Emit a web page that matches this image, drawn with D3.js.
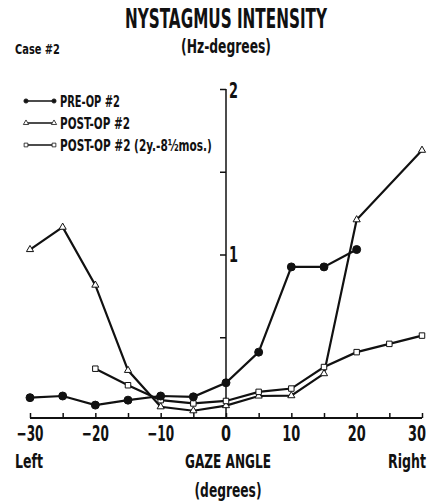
<!DOCTYPE html>
<html><head><meta charset="utf-8">
<script src="https://cdn.jsdelivr.net/npm/d3@7"></script>
<style>body{margin:0;background:#fff}svg{display:block}text{font-family:"DejaVu Sans Condensed","Liberation Sans Narrow",sans-serif;font-weight:bold;fill:#111}</style>
</head><body><div id="c"></div>
<script>
const preAngles = [-30,-25,-20,-15,-10,-5,0,5,10,15,20];
const preValues = [0.135,0.145,0.09,0.12,0.145,0.14,0.225,0.41,0.925,0.925,1.03];
const postAngles = [-30,-25,-20,-15,-10,-5,0,5,10,15,20,30];
const postValues = [1.03,1.165,0.815,0.30,0.08,0.056,0.087,0.145,0.147,0.28,1.21,1.63];
const post2Angles = [-20,-15,-10,-5,0,5,10,15,20,25,30];
const post2Values = [0.31,0.21,0.12,0.10,0.115,0.17,0.19,0.32,0.41,0.46,0.51];
const xTickValues = [-30,-20,-10,0,10,20,30];
const yTickLabels = [1,2];

const W=429,H=503;
const svg=d3.select("#c").append("svg").attr("width",W).attr("height",H);
const x=d3.scaleLinear().domain([-30,30]).range([30,422]);
const y=d3.scaleLinear().domain([0,2]).range([420,89]);

// text squeezed horizontally to a target width via scale transform
function txt(t,px,py,size,len,anchor){
  const g=svg.append("g");
  const e=g.append("text").attr("font-size",size).attr("text-anchor",anchor||"start").text(t);
  const nat=e.node().getComputedTextLength();
  const sx=len?len/nat:1;
  g.attr("transform",`translate(${px},${py}) scale(${sx},1)`);
  return e;
}
// titles
txt("NYSTAGMUS INTENSITY",226,28,26,202,"middle");
txt("(Hz-degrees)",226,53,19,90,"middle");
txt("Case #2",15,54,14,45);

// x axis
const xAxis=d3.axisBottom(x).tickValues(d3.range(-30,31,5)).tickSize(-5).tickFormat("");
const gx=svg.append("g").attr("transform",`translate(0,${y(0)-2})`).call(xAxis);
gx.select(".domain").attr("stroke","#111").attr("stroke-width",2).attr("d",`M${x(-30)},0H${x(30)}`);
gx.selectAll(".tick line").attr("stroke","#111").attr("stroke-width",1.5);
xTickValues.forEach(d=>{
  const lab=d<0?"\u2212"+Math.abs(d):String(d);
  const w=d<0?27:(d===0?10:18);
  if(d===30) txt(lab,426,441,21,w,"end");
  else txt(lab,x(d),441,21,w,"middle");
});

// y axis
const yAxis=d3.axisLeft(y).tickValues([0.5,1,1.5,2]).tickSize(6).tickFormat("");
const gy=svg.append("g").attr("transform",`translate(${x(0)},0)`).call(yAxis);
gy.select(".domain").attr("stroke","#111").attr("stroke-width",1.5).attr("d",`M0,${y(0)-2}V${y(2)}`);
gy.selectAll(".tick line").attr("stroke","#111").attr("stroke-width",1.5);
yTickLabels.forEach(d=>txt(String(d),x(0)+3,y(d)+(d===2?9:7),22,9));

// axis labels
txt("Left",15,468,19,28);
txt("GAZE ANGLE",228,468,19,86,"middle");
txt("Right",426,468,19,38,"end");
txt("(degrees)",228,497,19,67,"middle");

const line=d3.line().x(d=>x(d[0])).y(d=>y(d[1]));
function series(angles,vals,sym,size,fill){
  const pts=angles.map((a,i)=>[a,vals[i]]);
  svg.append("path").datum(pts).attr("d",line).attr("fill","none").attr("stroke","#111").attr("stroke-width",2.2);
  svg.append("g").selectAll("path").data(pts).join("path")
    .attr("transform",d=>`translate(${x(d[0])},${y(d[1])})`)
    .attr("d",d3.symbol(sym,size)).attr("fill",fill).attr("stroke","#111").attr("stroke-width",1);
}
series(postAngles,postValues,d3.symbolTriangle,22,"#fff");
series(post2Angles,post2Values,d3.symbolSquare,30,"#fff");
series(preAngles,preValues,d3.symbolCircle,50,"#111");

// legend
const leg=[["PRE-OP #2",d3.symbolCircle,14,"#111",60],["POST-OP #2",d3.symbolTriangle,12,"#fff",70],["POST-OP #2 (2y.-8\u00BDmos.)",d3.symbolSquare,14,"#fff",152]];
leg.forEach((l,i)=>{
  const ly=101+i*22;
  svg.append("line").attr("x1",28).attr("x2",52).attr("y1",ly).attr("y2",ly).attr("stroke","#111").attr("stroke-width",1.5);
  [26,54].forEach(cx=>svg.append("path").attr("transform",`translate(${cx},${ly})`).attr("d",d3.symbol(l[1],l[2])).attr("fill",l[3]).attr("stroke","#111").attr("stroke-width",0.8));
  txt(l[0],60,ly+6,15,l[4]);
});
</script></body></html>
